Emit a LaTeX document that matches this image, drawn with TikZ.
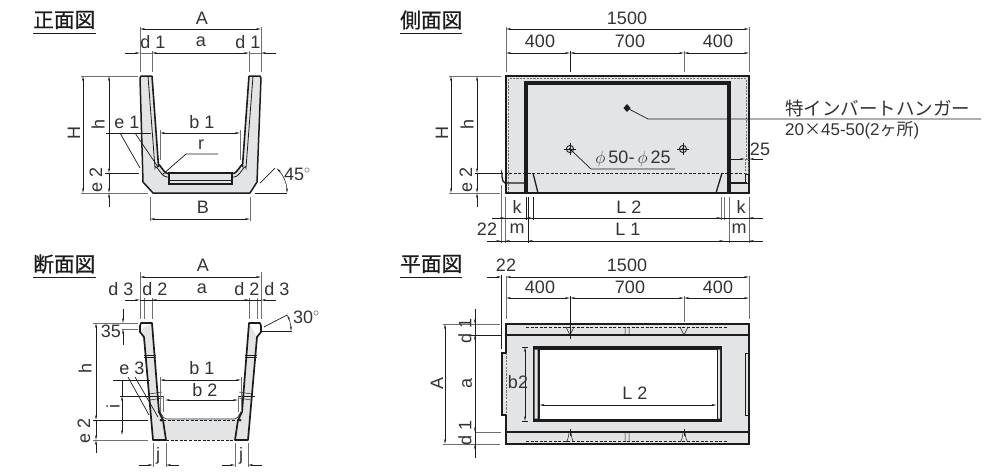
\documentclass[tikz,border=0pt]{standalone}
\usepackage{fontspec}
\setmainfont{Liberation Sans}
\newfontfamily\jpfont{Noto Sans CJK JP}
\newfontfamily\jpbold[FakeBold=0.6]{Noto Sans CJK JP}
\usetikzlibrary{arrows.meta}
\definecolor{gfill}{HTML}{E3E4E6}
\definecolor{ink}{HTML}{1C1C1C}
\definecolor{txt}{HTML}{333333}
\definecolor{ext}{HTML}{707070}
\tikzset{
  lab/.style={inner sep=0pt,text=txt,font=\fontsize{18}{20}\selectfont},
  vlab/.style={lab,rotate=90},
  ttl/.style={inner sep=0pt,text=ink,font=\jpbold\fontsize{20.7}{22}\selectfont,anchor=west},
  dimn/.style={draw=ink,line width=.55pt,>={Stealth[length=5pt,width=1.9pt]}},
  extn/.style={draw=ext,line width=.7pt},
  blk/.style={draw=ink,line width=.7pt},
  heavy/.style={draw=ink,line width=2pt,line join=miter},
  vheavy/.style={draw=ink,line width=3.2pt},
  mid/.style={draw=ink,line width=1.3pt},
  dsh/.style={draw=ink,line width=.6pt,dash pattern=on 3pt off 1.6pt},
  gdsh/.style={draw=ext,line width=1pt,dash pattern=on 2.2pt off 1.2pt},
  uline/.style={draw=ink,line width=.9pt},
}
\newcommand{\hole}[2]{%
  \draw[blk,line width=.5pt] (#1-6,#2)--(#1+6,#2) (#1,#2-6)--(#1,#2+6);
  \draw[blk,line width=.9pt] (#1,#2) circle (3.6);
  \fill[ink] (#1,#2) circle (1.5);}
\begin{document}
\begin{tikzpicture}[x=1pt,y=-1pt]
\useasboundingbox (0,0) rectangle (999,475);
% titles
\node[ttl] (t1) at (33,20) {正面図}; \draw[uline] (33,33)--(96,33);
\node[ttl] (t2) at (400,20) {側面図}; \draw[uline] (400,33)--(462,33);
\node[ttl] (t3) at (33,264) {断面図}; \draw[uline] (33,277)--(96,277);
\node[ttl] (t4) at (400,264) {平面図}; \draw[uline] (400,277)--(462,277);

%%%%% FRONT VIEW
\fill[gfill] (140,76)--(152,76)--(159,168) to[out=85,in=180] (168,174)--(233,174) to[out=0,in=95] (242,168)--(249,76)--(261,76)--(257,182)--(250,193)--(153,193)--(143,182)--cycle;
\draw[heavy,line width=1.5pt,line join=round] (152,76)--(141,76)--(140,78)--(143,182)--(153,193)--(250,193)--(257,182)--(261,78)--(260,76)--(249,76);
\draw[mid,line width=1.6pt] (152,76)--(158.5,166) to[out=85,in=180] (168,173.5)--(233,173.5) to[out=0,in=95] (242.5,166)--(249,76);
\draw[draw=ink,line width=.8pt] (148,76)--(155,168) to[out=85,in=180] (167,177)--(234,177) to[out=0,in=95] (246,168)--(253,76);
\draw[mid,fill=gfill] (169,173) rectangle (232,184);
\draw[blk] (169,180)--(232,180);
% front dims
\draw[extn] (140,27)--(140,72) (261,27)--(261,72) (152,51)--(152,72) (249,51)--(249,72);
\draw[dimn,<->] (140,29)--(261,29);
\draw[dimn,->] (125,53)--(140,53);
\draw[dimn,<->] (152,53)--(249,53);
\draw[dimn,<-] (261,53)--(276,53);
\draw[extn] (140,53)--(152,53) (249,53)--(261,53);
\node[lab] (fA) at (202,18) {A};
\node[lab] (fd1) at (153,42) {d 1};
\node[lab] (fa) at (201,42) {a};
\node[lab] (fd2) at (248,42) {d 1};
\draw[extn] (81,76)--(138,76) (81,193)--(148,193);
\draw[dimn,<->] (83,76)--(83,193);
\node[vlab] (fH) at (74,133) {H};
\draw[dimn,<->] (109,76)--(109,173);
\draw[dimn,->] (109,207)--(109,193);
\draw[dimn,->] (109,173)--(109,193);
\draw[blk] (105,173)--(139,173);
\node[vlab] (fh) at (98,124) {h};
\node[vlab] (fe2) at (96,180) {e 2};
\draw[blk] (106,133)--(151,133);
\draw[dimn,<->] (160,133)--(240,133);
\draw[blk] (120,133)--(140,168) (135,133)--(158,167);
\draw[extn] (160,130)--(160,160) (240,130)--(240,160);
\node[lab] (fe1) at (127,122) {e 1};
\node[lab] (fb1) at (202,122) {b 1};
\node[lab] (fr) at (201,145) {r};
\draw[blk] (218,154)--(186,154)--(162,175);
\draw[extn] (150,197)--(150,221) (250,197)--(250,221);
\draw[dimn,<->] (150,219)--(250,219);
\node[lab] (fB) at (203,207) {B};
\draw[blk] (260,183)--(275,168);
\draw[blk] (255,193)--(287,193);
\draw[dimn,<->] (276.7,168.3) arc[start angle=-45,end angle=0,radius=35];
\node[lab,anchor=west] (f45) at (284,174) {45$^\circ$};

%%%%% SECTION VIEW
\fill[gfill] (144,337)--(153,440)--(249,440)--(257,337)--(249,323)--(152,323)--(140,330)--cycle;
\fill[white] (152,318)--(159,412) to[out=85,in=180] (165,420)--(236,420) to[out=0,in=95] (242,412)--(249,318)--cycle;
\draw[dsh,line width=.9pt] (163,420)--(238,420) (166,440)--(235,440);
\draw[mid,line join=round,line width=1.7pt] (152,323)--(141,323)--(140,326)--(140,332)--(144,337)--(153,440)--(166,440)--(163,420)--(159,412)--cycle;
\draw[mid,line join=round,line width=1.7pt] (249,323)--(260,323)--(261,326)--(261,332)--(257,337)--(248,440)--(235,440)--(238,420)--(242,412)--cycle;
\draw[draw=ink,line width=.6pt] (159,412) to[out=80,in=180] (166,419)--(235,419) to[out=0,in=100] (242,412);
\draw[blk] (144,355)--(156,355) (144,357)--(156,357) (245,355)--(257,355) (245,357)--(257,357);
\draw[blk,line width=.5pt] (149,394)--(162,392) (150,400)--(162,398) (252,394)--(239,392) (251,400)--(239,398);
\fill[ink] (161,420) circle (1.5) (240,420) circle (1.5);
% section dims
\draw[extn] (140,272)--(140,319) (261,272)--(261,319) (144,298)--(144,319) (152,298)--(152,319) (249,298)--(249,319) (257,298)--(257,319);
\draw[dimn,<->] (140,277)--(261,277);
\draw[dimn,->] (125,300)--(140,300);
\draw[dimn] (140,300)--(261,300);
\draw[dimn,<->] (152,300)--(249,300);
\draw[dimn,<-] (261,300)--(276,300);
\node[lab] (sA) at (203,265) {A};
\node[lab] (sd3) at (121,289) {d 3};
\node[lab] (sd2) at (155,289) {d 2};
\node[lab] (sa) at (202,289) {a};
\node[lab] (sd4) at (247,289) {d 2};
\node[lab] (sd5) at (277,289) {d 3};
\draw[extn] (93,323)--(138,323) (122,329)--(138,329);
\draw[dimn,->] (123,309)--(123,323);
\draw[dimn,->] (123,345)--(123,329);
\node[lab] (s35) at (111,331) {35};
\draw[dimn,<->] (96,323)--(96,420);
\draw[dimn,->] (96,453)--(96,440);
\draw[dimn,->] (96,420)--(96,440);
\draw[blk] (93,420)--(148,420);
\draw[extn] (93,440)--(148,440);
\node[vlab] (sh) at (85,368) {h};
\node[vlab] (se2) at (84,431) {e 2};
\draw[dimn,<->] (122,396)--(122,435);
\draw[dimn] (122,380)--(122,396);
\draw[blk] (120,396)--(163,396) (238,396)--(255,396);
\node[vlab] (si) at (113,406) {i};
\draw[blk] (113,380)--(150,380);
\draw[dimn,<->] (160,380)--(241,380);
\draw[dimn,<->] (165,400)--(238,400);
\draw[extn] (160,377)--(160,412) (241,377)--(241,412) (163,396)--(163,412) (238,396)--(238,412);
\node[lab] (sb1) at (202,368) {b 1};
\node[lab] (sb2) at (205,390) {b 2};
\node[lab] (se3) at (132,368) {e 3};
\draw[blk] (128,377)--(149,415) (135,377)--(158,417);
\draw[extn] (153,443)--(153,467) (166,443)--(166,467) (235,443)--(235,467) (248,443)--(248,467);
\draw[dimn,->] (139,465)--(153,465);
\draw[dimn,->] (179,465)--(166,465);
\draw[dimn,->] (222,465)--(235,465);
\draw[dimn,->] (262,465)--(248,465);
\node[lab] (sj1) at (158,456) {j};
\node[lab] (sj2) at (241,456) {j};
\draw[blk] (264,327)--(287,315);
\draw[blk] (261,331)--(292,331);
\draw[dimn,<->] (287,315) arc[start angle=-28,end angle=0,radius=34];
\node[lab,anchor=west] (s30) at (293,317) {30$^\circ$};

%%%%% SIDE VIEW
\fill[gfill] (506,76) rectangle (749,193);
\draw[gdsh] (508.5,193)--(508.5,78.5)--(746.5,78.5)--(746.5,158);
\draw[draw=ink,line width=1.8pt,line join=miter] (506,193)--(506,76)--(749,76)--(749,193)--cycle;
\draw[vheavy] (526,193)--(526,83)--(729,83)--(729,193);
\draw[dsh] (500,173)--(749,173);
\fill[white] (503,173) rectangle (505.2,193);
\draw[mid] (502,174) to[out=90,in=180] (505,183)--(524,183);
\draw[mid] (533,173)--(538,193) (722,173)--(716,193);
\draw[mid] (730,183)--(747,183);
\draw[blk] (745,174) rectangle (748,183);
\draw[gdsh,line width=.7pt] (745,159) rectangle (748,173);
\hole{570}{149}
\hole{683}{149}
\path[fill=ink] (627,104)--(630.5,108)--(627,112)--(623.5,108)--cycle;
\draw[blk] (627,108)--(648,119)--(981,119);
\draw[blk] (570,149)--(591,169)--(675,169);
\node[lab,anchor=center] (sphi) at (633,159) {$\phi$\,50-\,$\phi$\,25};
\node[inner sep=0pt,text=txt,anchor=west,font=\jpfont\fontsize{18.5}{20}\selectfont] (hang) at (785,108) {特インバートハンガー};
\node[inner sep=0pt,text=txt,anchor=west,font=\fontsize{17}{18}\selectfont] (hang2) at (785,130) {20{\jpfont ×}45-50(2{\jpfont ヶ所})};
\node[lab] (s25) at (760,149) {25};
\draw[dimn,->] (730,159)--(745,159);
\draw[dimn,->] (763,159)--(749,159);
% side dims
\draw[extn] (506,27)--(506,72) (749,27)--(749,72) (684,51)--(684,72);
\draw[blk] (570,51)--(570,72);
\draw[dimn,<->] (506,29)--(749,29);
\draw[dimn,<->] (506,53)--(570,53);
\draw[dimn,<->] (570,53)--(684,53);
\draw[dimn,<->] (684,53)--(749,53);
\node[lab] (x1500) at (627,18) {1500};
\node[lab] (x400a) at (540,41) {400};
\node[lab] (x700) at (630,41) {700};
\node[lab] (x400b) at (718,41) {400};
\draw[extn] (449,76)--(501,76) (449,193)--(500,193);
\draw[dimn,<->] (451,76)--(451,193);
\node[vlab] (xH) at (442,133) {H};
\draw[dimn,<->] (477,76)--(477,173);
\draw[dimn,->] (477,173)--(477,193);
\draw[dimn,->] (477,207)--(477,193);
\draw[blk] (475,173)--(500,173);
\node[vlab] (xh) at (467,124) {h};
\node[vlab] (xe2) at (466,180) {e 2};
\draw[extn] (501,185)--(501,243) (505,197)--(505,243) (749,197)--(749,243) (729,197)--(729,243) (724,197)--(724,220) (721,197)--(721,220);
\draw[blk] (526,197)--(526,220) (528,197)--(528,243) (533,197)--(533,220);
\draw[dimn] (492,218)--(763,218);
\draw[dimn,->] (492,218)--(505,218);
\draw[dimn,<-] (526,218)--(540,218);
\draw[dimn,->] (708,218)--(721,218);
\draw[dimn,<-] (749,218)--(763,218);
\draw[dimn] (487,241)--(763,241);
\draw[dimn,->] (487,241)--(501,241);
\draw[dimn,<-] (505,241)--(515,241);
\draw[dimn,<-] (528,241)--(540,241);
\draw[dimn,->] (712,241)--(724,241);
\draw[dimn,<-] (749,241)--(763,241);
\node[lab] (xk1) at (517,207) {k};
\node[lab] (xL2) at (629,207) {L 2};
\node[lab] (xk2) at (741,207) {k};
\node[lab] (x22) at (487,229) {22};
\node[lab] (xm1) at (517,229) {m};
\node[lab] (xL1) at (628,229) {L 1};
\node[lab] (xm2) at (739,229) {m};

%%%%% PLAN VIEW
\fill[gfill] (506,324)--(749,324)--(749,444)--(506,444)--(506,415)--(502,415)--(502,353)--(506,353)--cycle;
\draw[draw=ink,line width=1.8pt] (506,348)--(506,324)--(749,324)--(749,444)--(506,444)--(506,420);
\draw[draw=ink,line width=1.3pt] (506,348)--(506,353)--(502,353)--(502,415)--(506,415)--(506,420);
\draw[gdsh] (506,353)--(506,415);
\draw[blk,fill=gfill] (745,353) rectangle (748,415);
\draw[mid] (506,335)--(749,335) (506,432)--(749,432);
\draw[dsh] (526,327)--(728,327) (526,441)--(728,441);
% inner opening
\fill[ink] (532.5,346) rectangle (722,421.5);
\fill[gfill] (534.5,349.5) rectangle (537.5,418.5) (718,349.5) rectangle (720.2,418.5);
\fill[white] (539.5,349.5) rectangle (716.5,418.5);
\draw[blk,line width=.5pt] (566,327)--(570,335)--(574,327) (680,327)--(684,335)--(688,327) (625,328)--(625,335) (629,328)--(629,335);
\draw[blk,line width=.5pt] (566,441) to[out=-80,in=-90] (569,432) (574,441) to[out=-100,in=-90] (571,432) (680,441) to[out=-80,in=-90] (683,432) (688,441) to[out=-100,in=-90] (685,432) (625,433)--(625,441) (629,433)--(629,441);
% plan dims
\draw[extn] (506,276)--(506,319) (749,276)--(749,319) (684,296)--(684,319);
\draw[blk] (501.5,275)--(501.5,349) (570,296)--(570,339) (570,429)--(570,436) (684,429)--(684,436);
\draw[extn] (684,319)--(684,322);
\draw[dimn,->] (487,277)--(501.5,277);
\draw[dimn,<->] (506,277)--(749,277);
\draw[dimn,<->] (506,298)--(570,298);
\draw[dimn,<->] (570,298)--(684,298);
\draw[dimn,<->] (684,298)--(749,298);
\node[lab] (p22) at (506,265) {22};
\node[lab] (p1500) at (627,265) {1500};
\node[lab] (p400a) at (540,287) {400};
\node[lab] (p700) at (630,287) {700};
\node[lab] (p400b) at (718,287) {400};
\draw[extn] (443,324)--(500,324) (443,444)--(500,444) (475,432)--(501,432);
\draw[blk] (470,335)--(501,335);
\draw[dimn,<->] (445,324)--(445,444);
\draw[dimn] (475,309)--(475,458);
\draw[dimn,->] (475,309)--(475,324);
\draw[dimn,<->] (475,335)--(475,432);
\draw[dimn,->] (475,458)--(475,444);
\node[vlab] (pA) at (437,383) {A};
\node[vlab] (pa) at (467,383) {a};
\node[vlab] (pd1) at (465,331) {d 1};
\node[vlab] (pd2) at (465,433) {d 1};
\draw[blk] (522,347)--(528,347) (522,421)--(528,421);
\draw[dimn,<->] (525,347)--(525,421);
\node[lab] (pb2) at (518,382) {b2};
\node[lab] (pL2) at (635,393) {L 2};
\draw[dimn,<->] (539.5,405)--(716.5,405);
\end{tikzpicture}
\end{document}
